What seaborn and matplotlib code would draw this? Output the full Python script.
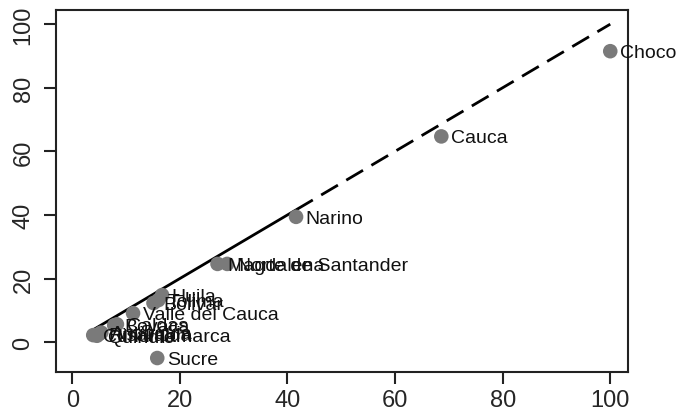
import matplotlib
matplotlib.use('Agg')
import matplotlib.pyplot as plt
import seaborn as sns
import pandas as pd

# departamentos: valor en eje x, valor en eje y
names = ['Choco', 'Cauca', 'Narino', 'Magdalena', 'Norte de Santander',
         'Huila', 'Bolivar', 'Tolima', 'Valle del Cauca', 'Boyaca', 'Caldas',
         'Cundinamarca', 'Antioquia', 'Risaralda', 'Quindio', 'Sucre']
x_vals = [100.0, 68.6, 41.6, 27.0, 28.8,
          16.7, 15.1, 16.0, 11.3, 7.8, 8.3,
          3.9, 5.4, 5.0, 4.6, 15.8]
y_vals = [91.5, 64.7, 39.4, 24.6, 24.6,
          14.8, 12.3, 13.2, 9.1, 5.3, 5.6,
          2.2, 3.0, 2.6, 2.0, -5.0]

# linea de referencia (solida en el rango observado, discontinua despues)
line_solid_x = [3.9, 41.6]
line_solid_y = [3.9, 41.6]
line_dash_x = [41.6, 100.0]
line_dash_y = [41.6, 100.0]

ticks = [0, 20, 40, 60, 80, 100]

df = pd.DataFrame({'name': names, 'x': x_vals, 'y': y_vals})

sns.set_style('white')
plt.rcParams['font.family'] = ['Liberation Sans', 'DejaVu Sans']

fig = plt.figure(figsize=(6.76, 4.14), dpi=100)
ax = fig.add_axes([0.083, 0.099, 0.846, 0.874])

ax.plot(line_solid_x, line_solid_y, color='black', lw=2.0, solid_capstyle='butt')
ax.plot(line_dash_x, line_dash_y, color='black', lw=2.0, dashes=(7, 3.5))

sns.scatterplot(data=df, x='x', y='y', ax=ax, color='#7a7a7a', s=110,
                edgecolor='none', zorder=3, legend=False)

for _, r in df.iterrows():
    ax.annotate(r['name'], (r['x'], r['y']), xytext=(7, -1),
                textcoords='offset points', va='center', ha='left',
                fontsize=14, color='#111111', zorder=4)

ax.set_xlim(-3.0, 103.3)
ax.set_ylim(-9.4, 104.4)
ax.set_xticks(ticks)
ax.set_yticks(ticks)
ax.set_xlabel('')
ax.set_ylabel('')

ax.set_xticklabels([str(t) for t in ticks], fontsize=17)
ax.set_yticklabels([str(t) for t in ticks], fontsize=17,
                   rotation=90, va='center')
ax.tick_params(axis='both', direction='out', length=8.5, width=1.5,
               color='#222222', bottom=True, left=True)
ax.tick_params(axis='x', pad=4)
ax.tick_params(axis='y', pad=7)

for sp in ax.spines.values():
    sp.set_color('#222222')
    sp.set_linewidth(1.5)
    sp.set_visible(True)

fig.savefig('out.png', dpi=100, facecolor='white')
plt.close()
